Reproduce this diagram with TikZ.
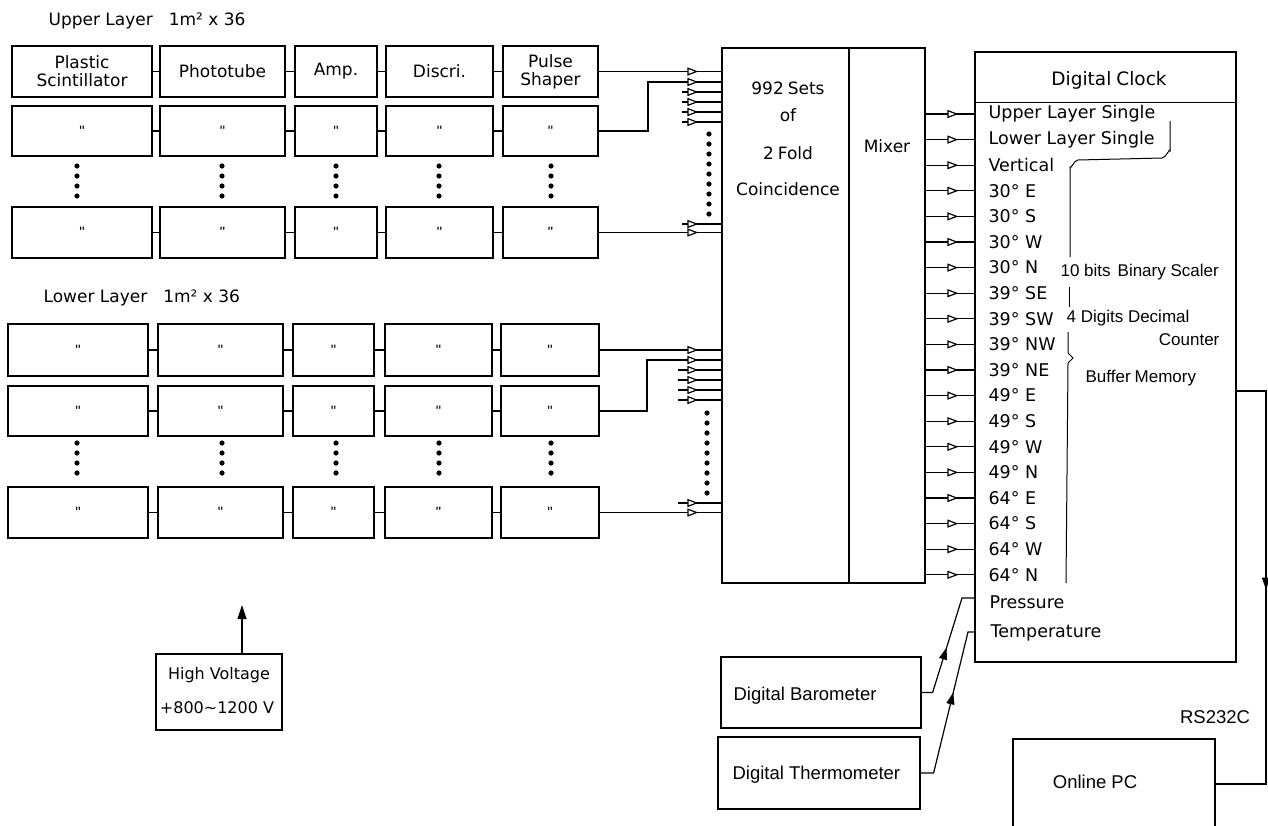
\documentclass[tikz,border=0pt]{standalone}
\usepackage{fontspec}
\setmainfont{DejaVu Sans}
\newfontfamily\arialf{Liberation Sans}
\usetikzlibrary{arrows.meta,decorations.markings,calc}

\begin{document}
\begin{tikzpicture}[x=1pt,y=-1pt,line width=1.2pt,
  box/.style={draw, rectangle, inner sep=0pt, line width=1.2pt},
  lbl/.style={font=\fontsize{17}{20}\selectfont, inner sep=0pt, align=center},
  clk/.style={font=\fontsize{17.5}{20}\selectfont, inner sep=0pt, anchor=west},
  hv/.style={font=\fontsize{16}{18}\selectfont, inner sep=0pt},
  arl/.style={font=\arialf\fontsize{17}{19}\selectfont, inner sep=0pt},
  arlb/.style={font=\arialf\fontsize{18.5}{21}\selectfont, inner sep=0pt},
  ditto/.style={font=\arialf\fontsize{15}{15}\selectfont},
  inarr/.style={postaction={decorate}, decoration={markings,
     mark=at position -23pt with {\arrow{Triangle[length=11pt,width=8pt,fill=white]}}}},
  outarr/.style={postaction={decorate}, decoration={markings,
     mark=at position -16pt with {\arrow{Triangle[length=11pt,width=8pt,fill=white]}}}},
  fmid/.style={postaction={decorate}, decoration={markings,
     mark=at position #1 with {\arrow{Triangle[length=12pt,width=8pt]}}}},
  dotf/.style={fill=black}
]
\fill[white] (0,0) rectangle (1268,825);
\useasboundingbox (0,0) rectangle (1268,825);

% ---------- titles
\node[lbl, anchor=west] (utitle) at (48,21) {Upper Layer\hspace{16pt}1m² x 36};
\node[lbl, anchor=west] (ltitle) at (43,298) {Lower Layer\hspace{16pt}1m² x 36};

% ---------- upper layer boxes
\node[box, lbl, minimum width=140, minimum height=51] (u11) at (82,71.5) {Plastic\\[-2pt]Scintillator};
\node[box, lbl, minimum width=125, minimum height=51] (u12) at (222.5,71.5) {Phototube};
\node[box, lbl, minimum width=82, minimum height=51] (u13) at (336,71.5) {Amp.};
\node[box, lbl, minimum width=107, minimum height=51] (u14) at (439.5,71.5) {Discri.};
\node[box, lbl, minimum width=95, minimum height=51] (u15) at (550.5,71.5) {Pulse\\[-2pt]Shaper};
\foreach \c/\xa/\xb in {1/12/152,2/160/285,3/295/377,4/386/493,5/503/598}{
  \foreach \r/\ya/\yb in {2/106/156,3/207/258}{
    \node[box, ditto, minimum width=\xb-\xa, minimum height=\yb-\ya] (u\r\c) at ({(\xa+\xb)/2},{(\ya+\yb)/2}) {\char34};
  }
}
% ---------- lower layer boxes
\foreach \c/\xa/\xb in {1/8/148,2/158/283,3/293/374,4/385/492,5/501/599}{
  \foreach \r/\ya/\yb in {1/324/376,2/386/436,3/487/538}{
    \node[box, ditto, minimum width=\xb-\xa, minimum height=\yb-\ya] (l\r\c) at ({(\xa+\xb)/2},{(\ya+\yb)/2}) {\char34};
  }
}
% connectors between stages
\foreach \L in {u,l}{
  \foreach \r in {1,2,3}{
    \foreach \c/\n in {1/2,2/3,3/4,4/5}{
      \draw (\L\r\c.east) -- (\L\r\n.west |- \L\r\c.east);
    }
  }
}
% vertical dots
\foreach \x in {77,222,336,439,551}{
  \foreach \y in {166,176,186,196}{ \fill[dotf] (\x,\y) circle (2.6pt); }
  \foreach \y in {443,453,463,473}{ \fill[dotf] (\x,\y) circle (2.6pt); }
}

% ---------- coincidence / mixer
\node[box, minimum width=127, minimum height=535] (coinc) at (785.5,315.5) {};
\node[box, minimum width=76, minimum height=535] (mixer) at (887,315.5) {};
\node[lbl] (ct1) at (788,88) {992\hspace{4pt}Sets};
\node[lbl] (ct2) at (788,115) {of};
\node[lbl] (ct3) at (788,153) {2\hspace{4pt}Fold};
\node[lbl] (ct4) at (788,189) {Coincidence};
\node[lbl] (mt) at (887,146) {Mixer};

% upper inputs
\draw[inarr] (u15.east) -- (u15.east -| coinc.west);
\coordinate (ubend) at (648,82);
\draw[inarr] (u25.east) -| (ubend) -- (ubend -| coinc.west);
\foreach \y in {92,102,112,122,224}{
  \coordinate (us\y) at (682,\y);
  \draw[inarr] (us\y) -- (us\y -| coinc.west);
}
\draw[inarr] (u35.east) -- (u35.east -| coinc.west);
\foreach \y in {0,...,8}{ \fill[dotf] (709,134+10*\y) circle (2.6pt); }
% lower inputs
\draw[inarr] (l15.east) -- (l15.east -| coinc.west);
\coordinate (lbend) at (647,360);
\draw[inarr] (l25.east) -| (lbend) -- (lbend -| coinc.west);
\foreach \y in {370,380,390,400,503}{
  \coordinate (ls\y) at (678,\y);
  \draw[inarr] (ls\y) -- (ls\y -| coinc.west);
}
\draw[inarr] (l35.east) -- (l35.east -| coinc.west);
\foreach \y in {0,...,8}{ \fill[dotf] (707,413+10*\y) circle (2.6pt); }

% ---------- digital clock
\node[box, minimum width=261, minimum height=610] (clock) at (1105.5,357) {};
\draw ($(clock.north west)+(0,51)$) -- ($(clock.north east)+(0,51)$);
\node[lbl, font=\fontsize{18.5}{20}\selectfont] (clt) at (1109,80) {Digital\hspace{5pt}Clock};
\foreach \t [count=\i from 0] in {Upper Layer Single,Lower Layer Single,Vertical,30° E,30° S,30° W,30° N,39° SE,39° SW,39° NW,39° NE,49° E,49° S,49° W,49° N,64° E,64° S,64° W,64° N}{
  \pgfmathsetmacro\yy{114+25.6*\i}
  \coordinate (m\i) at (0,\yy);
  \draw[outarr] (mixer.east |- m\i) -- (clock.west |- m\i);
  \node[clk] (t\i) at (988,\yy) {\t};
}
\node[clk] (tpres) at (989,602) {Pressure};
\node[clk] (ttemp) at (990,633) {Temperature};

% brackets
\draw[line width=1pt] (1170,121) -- (1170,151) to[out=90,in=0] (1162,158) -- (1078,160)
   to[out=180,in=-90] (1070,167) -- (1070,257);
\draw[line width=1pt] (1069,287) -- (1069,307);
\draw[line width=1pt] (1068,332) -- (1068,353) -- (1073,358) -- (1068,363) -- (1066,583);
\node[arl, anchor=west] (tbs) at (1060,272) {10 bits\hspace{7pt}Binary Scaler};
\node[arl, anchor=west] (tdd) at (1066,318) {4 Digits Decimal};
\node[arl, anchor=east] (tcn) at (1220,340) {Counter};
\node[arl, anchor=west] (tbm) at (1085,378) {Buffer\hspace{4pt}Memory};

% ---------- sensors
\node[box, minimum width=200, minimum height=71] (baro) at (821,692.5) {};
\node[arlb, anchor=west] (barot) at (733,696) {Digital Barometer};
\node[box, minimum width=202, minimum height=72] (thermo) at (819,773) {};
\node[arlb, anchor=west] (thermot) at (732,775) {Digital Thermometer};
\coordinate (pb) at (962,598);
\coordinate (tb) at (968,632);
\draw[fmid=58pt] (baro.east) -- ++(11,0) -- (pb) -- (pb -| clock.west);
\draw[fmid=96pt] (thermo.east) -- ++(13,0) -- (tb) -- (tb -| clock.west);

% ---------- online PC
\node[box, minimum width=202, minimum height=90] (pc) at (1114,784) {};
\node[arlb] (pct) at (1095,782) {Online PC};
\node[arlb] (rs) at (1215,717) {RS232C};
\coordinate (oy) at (0,391);
\coordinate (rc) at (1266,391);
\draw[fmid=228pt] (clock.east |- oy) -- (rc) -- (rc |- pc.east) -- (pc.east);

% ---------- high voltage
\node[box, minimum width=126, minimum height=76] (hvb) at (219,692) {};
\node[hv] (hvt1) at (219,675) {High Voltage};
\node[hv] (hvt2) at (217,708) {+800\textasciitilde 1200 V};
\coordinate (hvtop) at (242,605);
\draw[-{Triangle[length=14pt,width=9pt]}] (hvtop |- hvb.north) -- (hvtop);
\end{tikzpicture}
\end{document}
